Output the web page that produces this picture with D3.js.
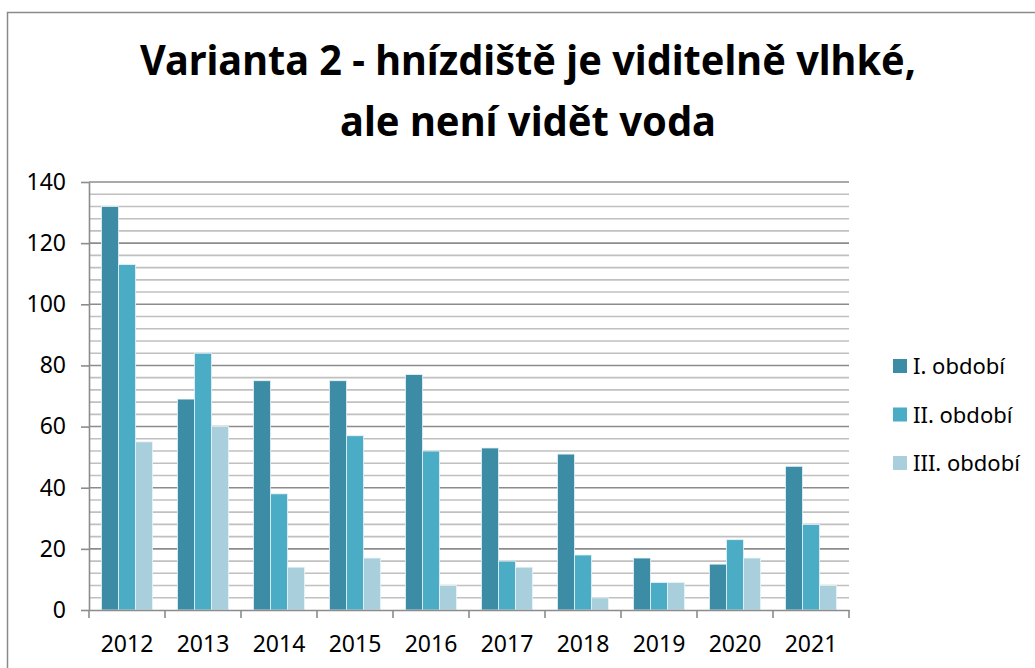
<!DOCTYPE html>
<html>
<head>
<meta charset="utf-8">
<script src="https://cdn.jsdelivr.net/npm/d3@7"></script>
<style>
  html, body { margin: 0; padding: 0; background: #fff; }
  svg { display: block; }
  text { font-family: "Noto Sans", "Open Sans", sans-serif; fill: #000; }
</style>
</head>
<body>
<svg id="chart" width="1035" height="668"></svg>
<script>
const years = ["2012","2013","2014","2015","2016","2017","2018","2019","2020","2021"];
const seriesNames = ["I. období", "II. období", "III. období"];
const period1 = [132, 69, 75, 75, 77, 53, 51, 17, 15, 47];
const period2 = [113, 84, 38, 57, 52, 16, 18, 9, 23, 28];
const period3 = [55, 60, 14, 17, 8, 14, 4, 9, 17, 8];
const yTicks = [0, 20, 40, 60, 80, 100, 120, 140];
const titleLines = ["Varianta 2 - hnízdiště je viditelně vlhké,", "ale není vidět voda"];
const colors = ["#3B8CA4", "#4BACC6", "#A9CFDD"];

const seriesValues = [period1, period2, period3];
const rows = years.map((yr, i) => ({ year: yr, vals: seriesValues.map(s => s[i]) }));

const svg = d3.select("#chart");
svg.append("rect").attr("width", 1035).attr("height", 668).attr("fill", "#fff");
// outer chart border
svg.append("rect").attr("x", 7.5).attr("y", 12.5).attr("width", 1100).attr("height", 700)
  .attr("fill", "none").attr("stroke", "#8a8a8a").attr("stroke-width", 1.5);

// title
const titleSpecs = [{ y: 75, len: 776 }, { y: 136, len: 376 }];
svg.selectAll("text.title").data(titleLines).join("text")
  .attr("class", "title")
  .attr("x", 528)
  .attr("y", (d, i) => titleSpecs[i].y)
  .attr("text-anchor", "middle")
  .attr("font-size", 42)
  .attr("font-weight", "bold")
  .attr("textLength", (d, i) => titleSpecs[i].len)
  .attr("lengthAdjust", "spacingAndGlyphs")
  .text(d => d);

const plotLeft = 89, plotRight = 849, plotTop = 182, plotBottom = 610;
const x0 = d3.scaleBand().domain(years).range([plotLeft, plotRight]).padding(0);
const x1 = d3.scaleBand().domain(d3.range(seriesNames.length)).range([0, x0.bandwidth()]).paddingInner(0).paddingOuter(0.735);
const y = d3.scaleLinear().domain([0, 140]).range([plotBottom, plotTop]);

// minor gridlines
const minor = d3.range(4, 140, 4).filter(v => v % 20 !== 0);
svg.append("g").selectAll("line").data(minor).join("line")
  .attr("x1", plotLeft).attr("x2", plotRight)
  .attr("y1", d => y(d)).attr("y2", d => y(d))
  .attr("stroke", "#c0c0c0").attr("stroke-width", 1.6);
// major gridlines
svg.append("g").selectAll("line").data(yTicks.filter(v => v > 0)).join("line")
  .attr("x1", plotLeft).attr("x2", plotRight)
  .attr("y1", d => y(d)).attr("y2", d => y(d))
  .attr("stroke", "#8c8c8c").attr("stroke-width", 1.6);

// bars
const groups = svg.append("g").selectAll("g").data(rows).join("g")
  .attr("transform", d => `translate(${x0(d.year)},0)`);
groups.selectAll("rect").data(d => d.vals.map((v, k) => ({ k, v }))).join("rect")
  .attr("x", d => x1(d.k))
  .attr("width", x1.bandwidth())
  .attr("y", d => y(d.v))
  .attr("height", d => y(0) - y(d.v))
  .attr("fill", d => colors[d.k])
  .attr("stroke", "#e8f3f7").attr("stroke-width", 0.8);

// y axis
const yAxis = svg.append("g").attr("transform", `translate(${plotLeft},0)`)
  .call(d3.axisLeft(y).tickValues(yTicks).tickSize(8).tickSizeOuter(0).tickPadding(15));
yAxis.selectAll("text").attr("font-size", 23).style("font-family", "'Noto Sans', sans-serif");
yAxis.selectAll("line, path").attr("stroke", "#8c8c8c").attr("stroke-width", 1.6);

// x axis (labels)
const xAxis = svg.append("g").attr("transform", `translate(0,${plotBottom})`)
  .call(d3.axisBottom(x0).tickSize(0).tickSizeOuter(0).tickPadding(26));
xAxis.selectAll("text").attr("font-size", 23).style("font-family", "'Noto Sans', sans-serif");
xAxis.select("path").attr("stroke", "#8c8c8c").attr("stroke-width", 1.6);
// boundary ticks
const bounds = years.map(yv => x0(yv)).concat([x0(years[years.length - 1]) + x0.bandwidth()]);
xAxis.append("g").selectAll("line").data(bounds).join("line")
  .attr("x1", d => d).attr("x2", d => d).attr("y1", 0).attr("y2", 8)
  .attr("stroke", "#8c8c8c").attr("stroke-width", 1.6);

// legend
const legend = svg.append("g").selectAll("g").data(seriesNames).join("g")
  .attr("transform", (d, i) => `translate(893,${366 + i * 48.5})`);
legend.append("rect").attr("x", 0).attr("y", -7).attr("width", 14).attr("height", 14)
  .attr("fill", (d, i) => colors[i]);
legend.append("text").attr("x", 20).attr("y", 8).attr("font-size", 22).text(d => d);
</script>
</body>
</html>
